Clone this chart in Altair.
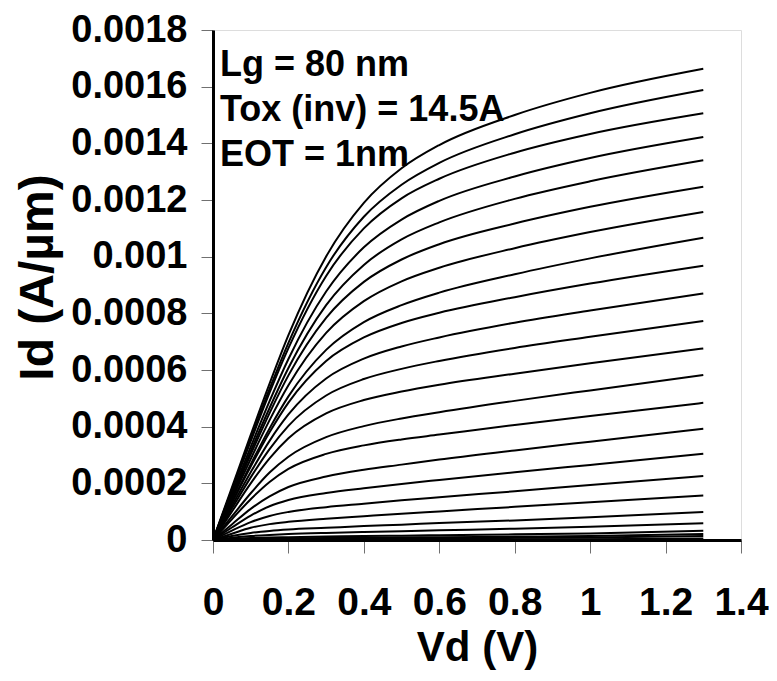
import altair as alt
import pandas as pd

# Drain voltage sample points (V)
VD = [0, 0.05, 0.1, 0.15, 0.2, 0.3, 0.4, 0.5, 0.6, 0.8, 1.0, 1.3]

# Drain current curves, in units of 1e-4 A/um (one list per gate step, top to bottom)
ID_SCALE = 1e-4
C01 = [0, 1.85, 3.71, 5.52, 7.23, 10.01, 11.90, 13.12, 13.94, 15.00, 15.78, 16.63]
C02 = [0, 1.78, 3.58, 5.33, 6.96, 9.63, 11.41, 12.54, 13.31, 14.32, 15.06, 15.88]
C03 = [0, 1.74, 3.49, 5.20, 6.77, 9.32, 11.00, 12.06, 12.75, 13.67, 14.33, 15.06]
C04 = [0, 1.64, 3.29, 4.90, 6.39, 8.77, 10.33, 11.31, 11.97, 12.83, 13.48, 14.22]
C05 = [0, 1.56, 3.14, 4.66, 6.07, 8.29, 9.71, 10.61, 11.21, 12.04, 12.66, 13.40]
C06 = [0, 1.50, 3.02, 4.48, 5.81, 7.84, 9.11, 9.90, 10.44, 11.17, 11.76, 12.47]
C07 = [0, 1.43, 2.86, 4.23, 5.46, 7.31, 8.43, 9.13, 9.61, 10.30, 10.87, 11.58]
C08 = [0, 1.33, 2.67, 3.94, 5.07, 6.71, 7.69, 8.29, 8.73, 9.38, 9.94, 10.67]
C09 = [0, 1.30, 2.59, 3.80, 4.85, 6.32, 7.15, 7.66, 8.02, 8.57, 9.05, 9.68]
C10 = [0, 1.20, 2.39, 3.50, 4.43, 5.70, 6.40, 6.83, 7.15, 7.67, 8.10, 8.70]
C11 = [0, 1.11, 2.21, 3.21, 4.03, 5.10, 5.68, 6.04, 6.32, 6.78, 7.17, 7.73]
C12 = [0, 1.00, 2.00, 2.88, 3.59, 4.47, 4.94, 5.24, 5.48, 5.87, 6.24, 6.76]
C13 = [0, 0.83, 1.65, 2.38, 2.94, 3.63, 4.02, 4.29, 4.51, 4.91, 5.28, 5.82]
C14 = [0, 0.73, 1.44, 2.05, 2.51, 3.04, 3.34, 3.55, 3.72, 4.06, 4.38, 4.84]
C15 = [0, 0.55, 1.10, 1.54, 1.87, 2.24, 2.48, 2.66, 2.84, 3.16, 3.47, 3.93]
C16 = [0, 0.44, 0.86, 1.19, 1.41, 1.66, 1.83, 1.98, 2.12, 2.39, 2.65, 3.04]
C17 = [0, 0.33, 0.63, 0.85, 0.99, 1.16, 1.28, 1.40, 1.51, 1.72, 1.94, 2.26]
C18 = [0, 0.22, 0.43, 0.56, 0.64, 0.75, 0.84, 0.93, 1.01, 1.17, 1.33, 1.57]
C19 = [0, 0.14, 0.25, 0.32, 0.37, 0.43, 0.49, 0.54, 0.60, 0.69, 0.80, 0.99]
C20 = [0, 0.08, 0.14, 0.18, 0.21, 0.25, 0.28, 0.31, 0.34, 0.40, 0.47, 0.59]
C21 = [0, 0.04, 0.07, 0.09, 0.10, 0.12, 0.14, 0.15, 0.17, 0.20, 0.23, 0.33]
C22 = [0, 0.02, 0.04, 0.05, 0.06, 0.07, 0.08, 0.09, 0.10, 0.12, 0.14, 0.21]
C23 = [0, 0.01, 0.02, 0.03, 0.035, 0.04, 0.05, 0.055, 0.06, 0.075, 0.09, 0.14]
C24 = [0, 0.005, 0.01, 0.012, 0.014, 0.016, 0.018, 0.02, 0.022, 0.026, 0.03, 0.05]
C25 = [0, 0.002, 0.003, 0.004, 0.004, 0.005, 0.005, 0.006, 0.006, 0.007, 0.008, 0.012]

CURVES = [C01, C02, C03, C04, C05, C06, C07, C08, C09, C10, C11, C12, C13,
          C14, C15, C16, C17, C18, C19, C20, C21, C22, C23, C24, C25]

X_TICKS = [0, 0.2, 0.4, 0.6, 0.8, 1.0, 1.2, 1.4]
Y_TICKS = [0, 0.0002, 0.0004, 0.0006, 0.0008, 0.001, 0.0012, 0.0014, 0.0016, 0.0018]
NOTE_LINES = ["Lg = 80 nm", "Tox (inv) = 14.5A", "EOT = 1nm"]

rows = []
for i, curve in enumerate(CURVES):
    for vd, idv in zip(VD, curve):
        rows.append({"curve": i, "vd": vd, "id": idv * ID_SCALE})
df = pd.DataFrame(rows)

FONT = "Liberation Sans"

lines = alt.Chart(df).mark_line(color="black", strokeWidth=2, interpolate="monotone").encode(
    x=alt.X("vd:Q", scale=alt.Scale(domain=[0, 1.4], nice=False),
            axis=alt.Axis(values=X_TICKS, format="~g", title="Vd (V)", grid=False,
                          tickSize=13, tickColor="#707070", tickWidth=1,
                          domainColor="black", domainWidth=3,
                          labelFont=FONT, labelFontSize=39, labelFontWeight="bold",
                          labelColor="black", labelPadding=30, labelFlush=False,
                          titleFont=FONT, titleFontSize=42, titleFontWeight="bold",
                          titleColor="black", titlePadding=5)),
    y=alt.Y("id:Q", scale=alt.Scale(domain=[0, 0.0018], nice=False),
            axis=alt.Axis(values=Y_TICKS, format="~g", title="Id (A/µm)", grid=False,
                          tickSize=12, tickColor="#707070", tickWidth=1,
                          domainColor="black", domainWidth=3,
                          labelFont=FONT, labelFontSize=38, labelFontWeight="bold",
                          labelColor="black", labelPadding=14, labelFlush=False,
                          titleFont=FONT, titleFontSize=48, titleFontWeight="bold",
                          titleColor="black", titlePadding=8, titleY=247)),
    detail="curve:N",
)

note = alt.Chart(pd.DataFrame({"t": [NOTE_LINES]})).mark_text(
    align="left", baseline="alphabetic", font=FONT, fontSize=36,
    fontWeight="bold", color="black", lineHeight=45,
).encode(x=alt.value(7), y=alt.value(46), text="t")

chart = alt.layer(lines, note).properties(
    width=528, height=510,
    autosize=alt.AutoSizeParams(type="none"),
    padding={"left": 205, "top": 22, "right": 28, "bottom": 133},
).configure_view(stroke="black", strokeWidth=3).configure(background="white")

chart.save("out.html", embed_options={"renderer": "svg", "actions": False})
